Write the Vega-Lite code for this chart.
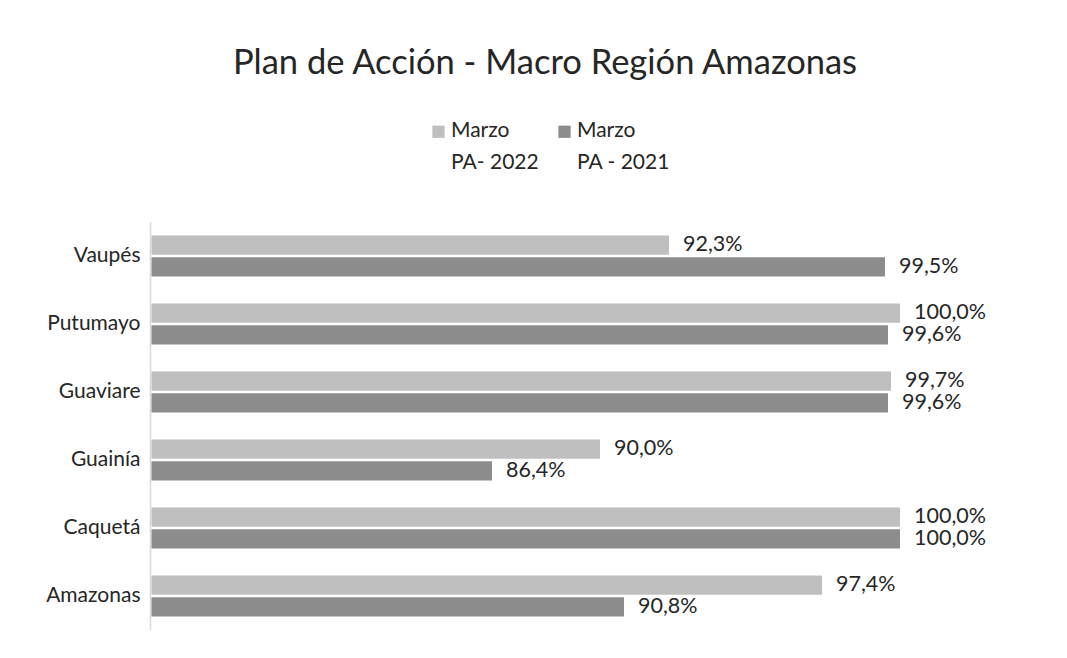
{
  "$schema": "https://vega.github.io/schema/vega-lite/v6.json",
  "width": 750,
  "height": 408,
  "autosize": "none",
  "padding": {"left": 150, "top": 222, "right": 167, "bottom": 28},
  "background": "white",
  "config": {
    "font": "Lato, sans-serif",
    "view": {"stroke": null},
    "locale": {"number": {"decimal": ",", "thousands": ".", "grouping": [3], "currency": ["", " €"]}}
  },
  "title": {
    "text": "Plan de Acción - Macro Región Amazonas",
    "fontSize": 34.5,
    "fontWeight": "normal",
    "color": "#262626",
    "anchor": "middle",
    "dx": 20,
    "offset": 40
  },
  "data": {
    "values": [
      {"region": "Vaupés", "serie": "Marzo|PA- 2022", "valor": 0.923},
      {"region": "Vaupés", "serie": "Marzo|PA - 2021", "valor": 0.995},
      {"region": "Putumayo", "serie": "Marzo|PA- 2022", "valor": 1.0},
      {"region": "Putumayo", "serie": "Marzo|PA - 2021", "valor": 0.996},
      {"region": "Guaviare", "serie": "Marzo|PA- 2022", "valor": 0.997},
      {"region": "Guaviare", "serie": "Marzo|PA - 2021", "valor": 0.996},
      {"region": "Guainía", "serie": "Marzo|PA- 2022", "valor": 0.9},
      {"region": "Guainía", "serie": "Marzo|PA - 2021", "valor": 0.864},
      {"region": "Caquetá", "serie": "Marzo|PA- 2022", "valor": 1.0},
      {"region": "Caquetá", "serie": "Marzo|PA - 2021", "valor": 1.0},
      {"region": "Amazonas", "serie": "Marzo|PA- 2022", "valor": 0.974},
      {"region": "Amazonas", "serie": "Marzo|PA - 2021", "valor": 0.908}
    ]
  },
  "encoding": {
    "y": {
      "field": "region",
      "type": "nominal",
      "sort": ["Vaupés", "Putumayo", "Guaviare", "Guainía", "Caquetá", "Amazonas"],
      "scale": {"paddingInner": 0.4, "paddingOuter": 0.2},
      "axis": {
        "title": null,
        "ticks": false,
        "domain": true,
        "domainColor": "#D9D9D9",
        "domainWidth": 1.5,
        "labelFontSize": 21,
        "labelColor": "#262626",
        "labelPadding": 10
      }
    },
    "yOffset": {
      "field": "serie",
      "type": "nominal",
      "sort": ["Marzo|PA- 2022", "Marzo|PA - 2021"],
      "scale": {"paddingInner": 0.12}
    },
    "x": {
      "field": "valor",
      "type": "quantitative",
      "scale": {"domain": [0.75, 1.0], "zero": false},
      "axis": null
    }
  },
  "layer": [
    {
      "mark": {"type": "bar"},
      "encoding": {
        "x2": {"datum": 0.7505},
        "color": {
          "field": "serie",
          "type": "nominal",
          "sort": ["Marzo|PA- 2022", "Marzo|PA - 2021"],
          "scale": {"range": ["#BFBFBF", "#8C8C8C"]},
          "legend": {
            "title": null,
            "orient": "none",
            "legendX": 278,
            "legendY": -101,
            "direction": "horizontal",
            "columns": 2,
            "columnPadding": 15,
            "symbolType": "square",
            "symbolSize": 150,
            "symbolStrokeWidth": 0,
            "labelFontSize": 21,
            "labelColor": "#262626",
            "labelOffset": 2,
            "labelBaseline": "top",
            "labelExpr": "split(datum.label, '|')",
            "encode": {
              "labels": {"update": {"lineHeight": {"value": 32}, "dy": {"value": -12}}}
            }
          }
        }
      }
    },
    {
      "mark": {"type": "text", "align": "left", "baseline": "middle", "dx": 14, "fontSize": 21.5, "color": "#262626"},
      "encoding": {
        "text": {"field": "valor", "type": "quantitative", "format": ".1%"}
      }
    }
  ]
}
